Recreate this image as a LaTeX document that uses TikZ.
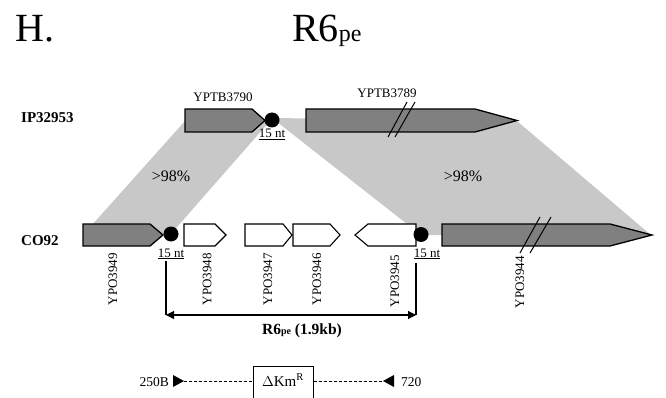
\documentclass[tikz,border=0pt]{standalone}
\usepackage{fontspec}
\setmainfont{Liberation Serif}
\usetikzlibrary{arrows.meta}
\definecolor{genegray}{RGB}{128,128,128}
\definecolor{bandgray}{RGB}{200,200,200}
\begin{document}
\begin{tikzpicture}[x=1pt,y=-1pt,
  band/.style={fill=bandgray,draw=none},
  genedark/.style={fill=genegray,draw=black,line width=1.3pt,line join=miter},
  genelight/.style={fill=white,draw=black,line width=1.1pt,line join=miter},
  site/.style={circle,fill=black,inner sep=0pt,minimum size=15pt},
  slash/.style={draw=black,line width=1pt},
  lbl/.style={font=\fontsize{13}{13}\selectfont,inner sep=0pt},
  strain/.style={font=\fontsize{15}{15}\selectfont\bfseries,inner sep=0pt,anchor=base west},
  pct/.style={font=\fontsize{16}{16}\selectfont,inner sep=0pt,anchor=base},
  nt/.style={font=\fontsize{13}{13}\selectfont,inner sep=0pt,anchor=base},
  vlbl/.style={font=\fontsize{13}{13}\selectfont,inner sep=0pt,rotate=90,anchor=east},
  title/.style={font=\fontsize{40}{40}\selectfont,inner sep=0pt,anchor=base west},
  bracket/.style={draw=black,line width=1.1pt},
  dashline/.style={draw=black,line width=0.8pt,dash pattern=on 3pt off 2pt}
]
\useasboundingbox (0,0) rectangle (666,398);

% titles
\node[title] (h) at (15,42) {H.};
\node[title] (r6) at (292,42) {R6{\fontsize{24}{24}\selectfont pe}};

% homology bands
\fill[band] (185,121) -- (270,121) -- (170,235) -- (83,235) -- cycle;
\fill[band] (272,118) -- (517,121) -- (652,236) -- (421,235) -- cycle;
\node[pct] (p1) at (171,182) {>98\%};
\node[pct] (p2) at (463,182) {>98\%};

% strain labels
\node[strain] (ip) at (21,123) {IP32953};
\node[strain] (co) at (21,245) {CO92};

% top genes
\draw[genedark] (185,109) -- (252,109) -- (265,120.5) -- (252,132) -- (185,132) -- cycle;
\draw[genedark] (306,109) -- (475,109) -- (517,120.5) -- (475,132) -- (306,132) -- cycle;
\draw[slash] (388,137) -- (407,102);
\draw[slash] (395,137) -- (415,102);
\node[site] (s1) at (272,120) {};
\node[lbl,anchor=base] (n1) at (223,102) {YPTB3790};
\node[lbl,anchor=base] (n2) at (387,98) {YPTB3789};
\node[nt] (nt1) at (272,138) {\underline{15 nt}};

% bottom genes
\draw[genedark] (83,224) -- (150,224) -- (163,235) -- (150,246) -- (83,246) -- cycle;
\draw[genelight] (184,224) -- (215,224) -- (226,235) -- (215,246) -- (184,246) -- cycle;
\draw[genelight] (245,224) -- (283,224) -- (292,235) -- (283,246) -- (245,246) -- cycle;
\draw[genelight] (293,224) -- (330,224) -- (340,235) -- (330,246) -- (293,246) -- cycle;
\draw[genelight] (416,224) -- (368,224) -- (355,235) -- (368,246) -- (416,246) -- cycle;
\draw[genedark] (442,224) -- (610,224) -- (652,235) -- (610,246) -- (442,246) -- cycle;
\draw[slash] (520,253) -- (540,217);
\draw[slash] (530,253) -- (551,217);
\node[site] (s2) at (171,234) {};
\node[site] (s3) at (421,234.5) {};
\node[nt] (nt2) at (171,257) {\underline{15 nt}};
\node[nt] (nt3) at (427,257) {\underline{15 nt}};

\node[vlbl] (g49) at (113,253) {YPO3949};
\node[vlbl] (g48) at (207,253) {YPO3948};
\node[vlbl] (g47) at (268,253) {YPO3947};
\node[vlbl] (g46) at (317,253) {YPO3946};
\node[vlbl] (g45) at (395,255) {YPO3945};
\node[vlbl] (g44) at (520,256) {YPO3944};

% bracket
\coordinate (bl) at (166,261);
\coordinate (blb) at (166,315);
\coordinate (br) at (416,263);
\coordinate (brb) at (416,315);
\draw[bracket] (bl) -- (blb);
\draw[bracket] (br) -- (brb);
\draw[bracket,{Triangle[length=8pt,width=8pt]}-{Triangle[length=8pt,width=8pt]}] (blb) -- (brb);
\node[font=\fontsize{15.5}{15.5}\selectfont\bfseries,inner sep=0pt,anchor=base] (r6len) at (302,334)
  {R6{\fontsize{10}{10}\selectfont pe} (1.9kb)};

% deletion construct
\node[draw=black,line width=1pt,minimum width=60pt,minimum height=36pt,inner sep=0pt] (km) at (283,384) {};
\node[font=\fontsize{15}{15}\selectfont,inner sep=0pt,anchor=base] (kmt) at (283,386) {$\Delta$Km\textsuperscript{R}};
\fill (173,375) -- (184,381) -- (173,387) -- cycle;
\fill (394,375) -- (383,381) -- (394,387) -- cycle;
\coordinate (ta) at (184,381);
\coordinate (tb) at (383,381);
\draw[dashline] (ta) -- (ta -| km.west);
\draw[dashline] (tb -| km.east) -- (tb);
\node[font=\fontsize{13.5}{13.5}\selectfont,inner sep=0pt,anchor=base east] (p250) at (169,386) {250B};
\node[font=\fontsize{13.5}{13.5}\selectfont,inner sep=0pt,anchor=base west] (p720) at (401,386) {720};
\end{tikzpicture}
\end{document}
